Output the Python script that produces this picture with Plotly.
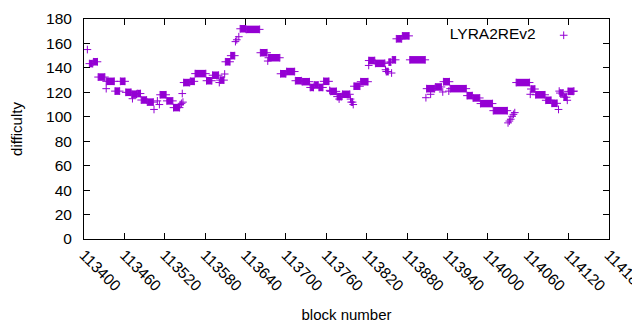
import plotly.graph_objects as go

# Runs of consecutive blocks that share the same difficulty
run_start = [113405, 113408, 113414, 113421, 113433, 113433, 113446, 113454, 113462, 113471,
             113472, 113479, 113485, 113494, 113504, 113509, 113512, 113513, 113523, 113533,
             113543, 113545, 113546, 113547, 113548, 113558, 113565, 113582, 113591, 113601,
             113602, 113609, 113610, 113618, 113625, 113627, 113630, 113632, 113641, 113662,
             113673, 113674, 113692, 113701, 113714, 113724, 113736, 113742, 113749, 113756,
             113765, 113766, 113776, 113779, 113784, 113796, 113797, 113800, 113801, 113811,
             113823, 113823, 113833, 113848, 113849, 113853, 113857, 113858, 113864, 113873,
             113884, 113908, 113909, 113915, 113922, 113933, 113934, 113942, 113944, 113969,
             113978, 113989, 114008, 114030, 114032, 114034, 114036, 114038, 114040, 114042,
             114063, 114064, 114071, 114086, 114095, 114105, 114106, 114107, 114113, 114118,
             114119, 114128]
run_end = [113405, 113413, 113420, 113431, 113433, 113445, 113453, 113461, 113470, 113478,
           113472, 113484, 113493, 113503, 113504, 113509, 113512, 113522, 113532, 113542,
           113543, 113545, 113546, 113547, 113557, 113564, 113581, 113590, 113600, 113601,
           113608, 113609, 113617, 113624, 113625, 113627, 113630, 113640, 113661, 113672,
           113673, 113691, 113700, 113713, 113723, 113735, 113741, 113748, 113755, 113764,
           113765, 113775, 113783, 113779, 113795, 113796, 113799, 113800, 113810, 113822,
           113823, 113832, 113847, 113848, 113852, 113856, 113857, 113863, 113872, 113883,
           113907, 113908, 113921, 113915, 113931, 113933, 113943, 113942, 113968, 113977,
           113988, 114007, 114029, 114030, 114032, 114034, 114036, 114038, 114040, 114062,
           114063, 114070, 114085, 114094, 114103, 114105, 114106, 114112, 114117, 114118,
           114127, 114128]
difficulty = [155, 143.5, 145, 132.5, 123, 129, 121, 129, 120, 118.5,
              114.8, 119, 113.7, 112, 106, 113, 110, 118, 113, 107.5,
              110, 111, 119, 112, 128, 129, 135.3, 129.5, 134, 128,
              130, 135, 145, 150, 161.5, 163, 165.5, 172, 171.5, 152.4,
              145.6, 148.3, 135.2, 137, 129.5, 128.7, 124, 126, 124, 129,
              121.6, 120.8, 116.5, 114.5, 118.4, 114.5, 112, 110, 125, 128.7,
              142, 146, 143.7, 138.5, 137, 144.7, 135.8, 146.6, 163.8, 166.2,
              146.6, 115.6, 123, 118.4, 124.4, 120.3, 128.7, 121, 123, 117.3,
              115.4, 110.8, 105, 95, 96.5, 98, 100.4, 102, 103.4, 128,
              118.4, 122.7, 118, 113.5, 111, 106, 121, 119.4, 116, 113.5,
              120.8, 121]

x_ticks = [113400, 113460, 113520, 113580, 113640, 113700, 113760, 113820,
           113880, 113940, 114000, 114060, 114120, 114180]
y_ticks = [0, 20, 40, 60, 80, 100, 120, 140, 160, 180]

COLOR = "#9400D3"
FONT = "Liberation Sans, Arial, sans-serif"

# filled bands for multi-block runs
bx, by = [], []
for s, e, v in zip(run_start, run_end, difficulty):
    if e > s:
        bx += [s, e, None]
        by += [v, v, None]

# plus markers at first and last block of every run
mx, my = [], []
for s, e, v in zip(run_start, run_end, difficulty):
    mx.append(s); my.append(v)
    if e > s:
        mx.append(e); my.append(v)

fig = go.Figure()
fig.add_trace(go.Scatter(x=bx, y=by, mode="lines", line=dict(color=COLOR, width=7.5),
                         showlegend=False, hoverinfo="skip", connectgaps=False))
fig.add_trace(go.Scatter(x=mx, y=my, mode="markers", name="",
                         marker=dict(symbol="cross-thin-open", size=5.5,
                                     line=dict(color=COLOR, width=1), color=COLOR)))

fig.update_layout(
    width=640, height=330,
    margin=dict(l=76, r=39, t=11, b=99, autoexpand=False),
    paper_bgcolor="white", plot_bgcolor="white",
    font=dict(family=FONT, size=15, color="#000000"),
    legend=dict(title=dict(text="LYRA2REv2", side="left", font=dict(size=15.5)),
                x=0.693, y=1.0, xanchor="left", yanchor="top",
                bgcolor="rgba(0,0,0,0)", font=dict(size=15),
                itemwidth=30),
    xaxis=dict(range=[113400, 114180], tickmode="array", tickvals=x_ticks,
               ticktext=[str(t) for t in x_ticks], tickangle=45, automargin=False,
               ticklabeloverflow="allow",
               ticks="inside", ticklen=6, tickcolor="black", mirror="allticks",
               showline=True, linecolor="black", linewidth=1, showgrid=False,
               zeroline=False, tickfont=dict(size=15.5),
               title=dict(text="block number", standoff=16, font=dict(size=15))),
    yaxis=dict(range=[0, 180], tickmode="array", tickvals=y_ticks, automargin=False,
               ticks="inside", ticklen=6, tickcolor="black", mirror="allticks",
               showline=True, linecolor="black", linewidth=1, showgrid=False,
               zeroline=False, tickfont=dict(size=15.5), ticklabelstandoff=8,
               title=dict(text="difficulty", standoff=19, font=dict(size=15))),
)

fig.write_html("out.html")
